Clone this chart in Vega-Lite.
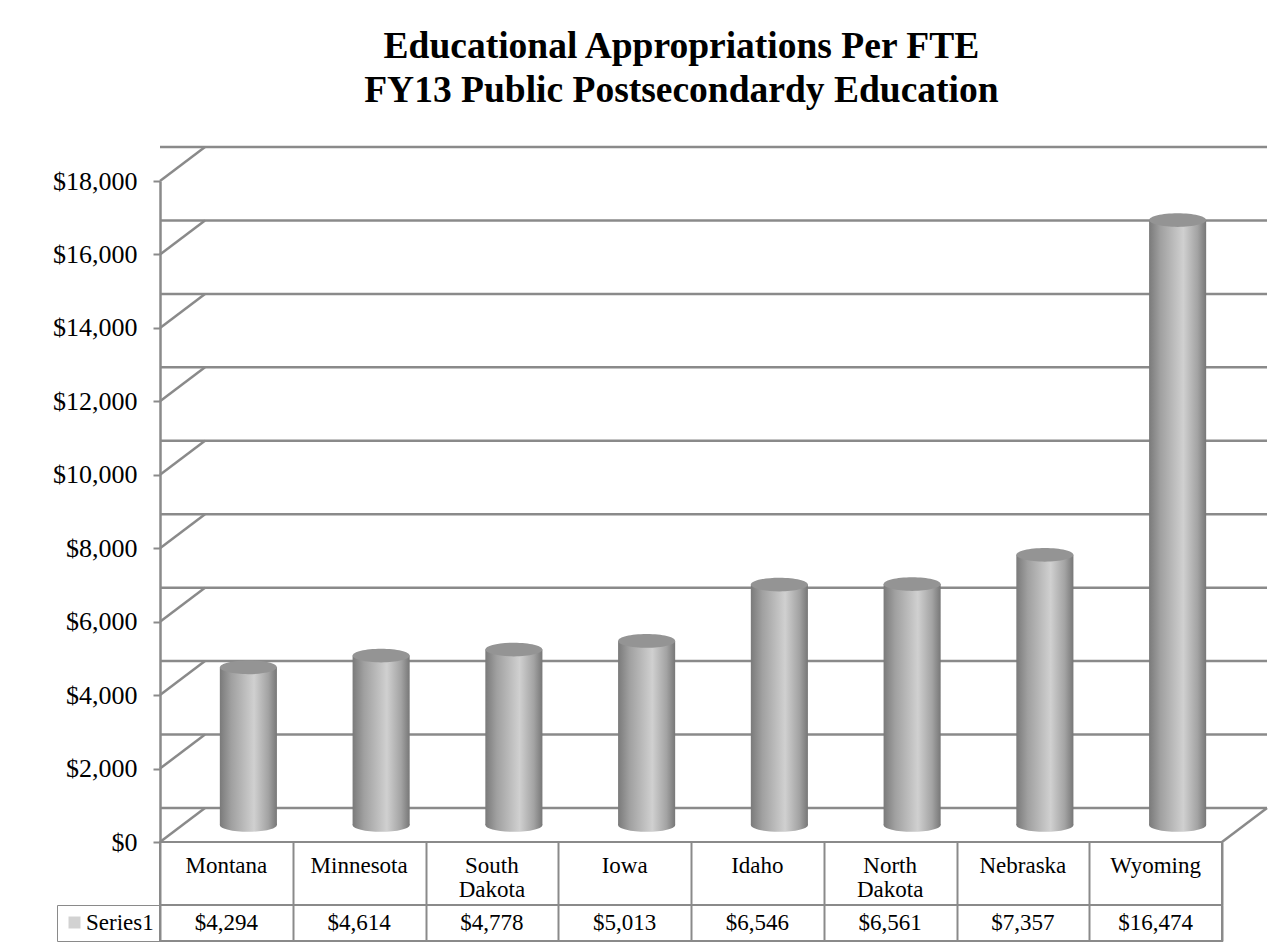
{
  "$schema": "https://vega.github.io/schema/vega-lite/v6.json",
  "background": "white",
  "padding": {"left": 52, "top": 28, "right": 10, "bottom": 0},
  "spacing": 0,
  "bounds": "flush",
  "resolve": {"legend": {"color": "independent"}, "scale": {"color": "independent"}},
  "title": {
    "text": ["Educational Appropriations Per FTE", "FY13 Public Postsecondardy Education"],
    "font": "Liberation Serif",
    "fontSize": 37.5,
    "fontWeight": "bold",
    "color": "black",
    "anchor": "middle",
    "lineHeight": 44,
    "offset": 36,
    "dx": 21
  },
  "config": {
    "view": {"stroke": null},
    "font": "Liberation Serif"
  },
  "datasets": {
    "states": [
      {"state": "Montana", "value": 4294, "series": "Series1"},
      {"state": "Minnesota", "value": 4614, "series": "Series1"},
      {"state": "South Dakota", "value": 4778, "series": "Series1"},
      {"state": "Iowa", "value": 5013, "series": "Series1"},
      {"state": "Idaho", "value": 6546, "series": "Series1"},
      {"state": "North Dakota", "value": 6561, "series": "Series1"},
      {"state": "Nebraska", "value": 7357, "series": "Series1"},
      {"state": "Wyoming", "value": 16474, "series": "Series1"}
    ],
    "ticks": [
      {"v": 0}, {"v": 2000}, {"v": 4000}, {"v": 6000}, {"v": 8000},
      {"v": 10000}, {"v": 12000}, {"v": 14000}, {"v": 16000}, {"v": 18000}
    ]
  },
  "vconcat": [
    {
      "width": 1062,
      "height": 661,
      "layer": [
        {
          "data": {"name": "ticks"},
          "mark": {"type": "rule", "color": "#8a8a8a", "strokeWidth": 2.5, "xOffset": 45, "x2Offset": 45, "yOffset": -34},
          "encoding": {
            "y": {
              "field": "v", "type": "quantitative", "title": null,
              "scale": {"domain": [0, 18000], "nice": false},
              "axis": {
                "values": [0, 2000, 4000, 6000, 8000, 10000, 12000, 14000, 16000, 18000],
                "format": "$,d",
                "title": null,
                "grid": false,
                "labelFont": "Liberation Serif",
                "labelFontSize": 26,
                "labelColor": "black",
                "labelPadding": 16,
                "tickColor": "#8a8a8a",
                "tickSize": 7,
                "tickWidth": 2,
                "domainColor": "#8a8a8a",
                "domainWidth": 2.5
              }
            }
          }
        },
        {
          "data": {"name": "ticks"},
          "mark": {"type": "rule", "color": "#8a8a8a", "strokeWidth": 2.5, "x2Offset": 45, "y2Offset": -34},
          "encoding": {
            "y": {"field": "v", "type": "quantitative", "title": null},
            "y2": {"field": "v"},
            "x": {
              "datum": "Montana", "type": "nominal", "bandPosition": 0,
              "scale": {"domain": ["Montana", "Minnesota", "South Dakota", "Iowa", "Idaho", "North Dakota", "Nebraska", "Wyoming"], "paddingInner": 0, "paddingOuter": 0},
              "axis": null
            },
            "x2": {"datum": "Montana", "bandPosition": 0}
          }
        },
        {
          "data": {"values": [{"floor": 0}]},
          "mark": {"type": "rule", "color": "#8a8a8a", "strokeWidth": 2.5, "x2Offset": 45, "y2Offset": -34},
          "encoding": {
            "y": {"field": "floor", "type": "quantitative", "title": null},
            "y2": {"field": "floor"},
            "x": {"datum": "Wyoming", "type": "nominal", "bandPosition": 1},
            "x2": {"datum": "Wyoming", "bandPosition": 1}
          }
        },
        {
          "data": {"name": "states"},
          "mark": {
            "type": "point",
            "shape": "M-1,0A1,0.24,0,1,1,1,0A1,0.24,0,1,1,-1,0Z",
            "size": 3249,
            "filled": true,
            "opacity": 1,
            "strokeWidth": 0,
            "xOffset": 22,
            "yOffset": -17,
            "color": {
              "gradient": "linear", "x1": 0, "x2": 1, "y1": 0, "y2": 0,
              "stops": [
                {"offset": 0, "color": "#7a7a7a"},
                {"offset": 0.2, "color": "#a0a0a0"},
                {"offset": 0.6, "color": "#d0d0d0"},
                {"offset": 0.85, "color": "#a3a3a3"},
                {"offset": 1, "color": "#777777"}
              ]
            }
          },
          "encoding": {
            "x": {"field": "state", "type": "nominal", "sort": null},
            "y": {"datum": 0, "type": "quantitative"}
          }
        },
        {
          "data": {"name": "states"},
          "mark": {
            "type": "bar",
            "width": {"band": 0.43},
            "xOffset": 22,
            "yOffset": -17,
            "y2Offset": -17,
            "color": {
              "gradient": "linear", "x1": 0, "x2": 1, "y1": 0, "y2": 0,
              "stops": [
                {"offset": 0, "color": "#7a7a7a"},
                {"offset": 0.2, "color": "#a0a0a0"},
                {"offset": 0.6, "color": "#d0d0d0"},
                {"offset": 0.85, "color": "#a3a3a3"},
                {"offset": 1, "color": "#777777"}
              ]
            }
          },
          "encoding": {
            "x": {"field": "state", "type": "nominal", "sort": null},
            "y": {"field": "value", "type": "quantitative", "title": null}
          }
        },
        {
          "data": {"name": "states"},
          "mark": {
            "type": "point",
            "shape": "M-1,0A1,0.24,0,1,1,1,0A1,0.24,0,1,1,-1,0Z",
            "size": 3249,
            "filled": true,
            "opacity": 1,
            "strokeWidth": 0,
            "xOffset": 22,
            "yOffset": -17,
            "color": "#949494"
          },
          "encoding": {
            "x": {"field": "state", "type": "nominal", "sort": null},
            "y": {"field": "value", "type": "quantitative", "title": null}
          }
        }
      ]
    },
    {
      "width": 1062,
      "height": 63,
      "data": {"name": "states"},
      "view": {"stroke": "#8a8a8a", "strokeWidth": 2},
      "mark": {
        "type": "text",
        "font": "Liberation Serif",
        "fontSize": 23,
        "color": "black",
        "baseline": "top",
        "lineBreak": " ",
        "lineHeight": 24,
        "dy": -19
      },
      "encoding": {
        "x": {
          "field": "state", "type": "nominal", "sort": null,
          "scale": {"paddingInner": 0, "paddingOuter": 0},
          "axis": {
            "title": null, "labels": false, "ticks": false, "domain": false,
            "grid": true, "tickBand": "extent", "gridColor": "#8a8a8a", "gridWidth": 2, "gridOpacity": 1
          }
        },
        "text": {"field": "state"}
      }
    },
    {
      "width": 1062,
      "height": 36,
      "data": {"name": "states"},
      "view": {"stroke": "#8a8a8a", "strokeWidth": 2},
      "encoding": {
        "x": {
          "field": "state", "type": "nominal", "sort": null,
          "scale": {"paddingInner": 0, "paddingOuter": 0},
          "axis": {
            "title": null, "labels": false, "ticks": false, "domain": false,
            "grid": true, "tickBand": "extent", "gridColor": "#8a8a8a", "gridWidth": 2, "gridOpacity": 1
          }
        }
      },
      "layer": [
        {
          "mark": {"type": "text", "font": "Liberation Serif", "fontSize": 23, "baseline": "middle", "color": "black"},
          "encoding": {
            "text": {"field": "value", "type": "quantitative", "format": "$,d"}
          }
        },
        {
          "mark": {"type": "point", "filled": true, "size": 0, "shape": "square"},
          "encoding": {
            "color": {
              "field": "series", "type": "nominal",
              "scale": {"range": ["#bfbfbf"]},
              "legend": {
                "orient": "left",
                "offset": 0,
                "title": null,
                "symbolType": "square",
                "symbolSize": 144,
                "symbolStrokeWidth": 0,
                "labelFont": "Liberation Serif",
                "labelFontSize": 23,
                "labelColor": "black",
                "labelOffset": 0,
                "padding": 6,
                "strokeColor": "#8a8a8a"
              }
            }
          }
        }
      ]
    }
  ]
}
